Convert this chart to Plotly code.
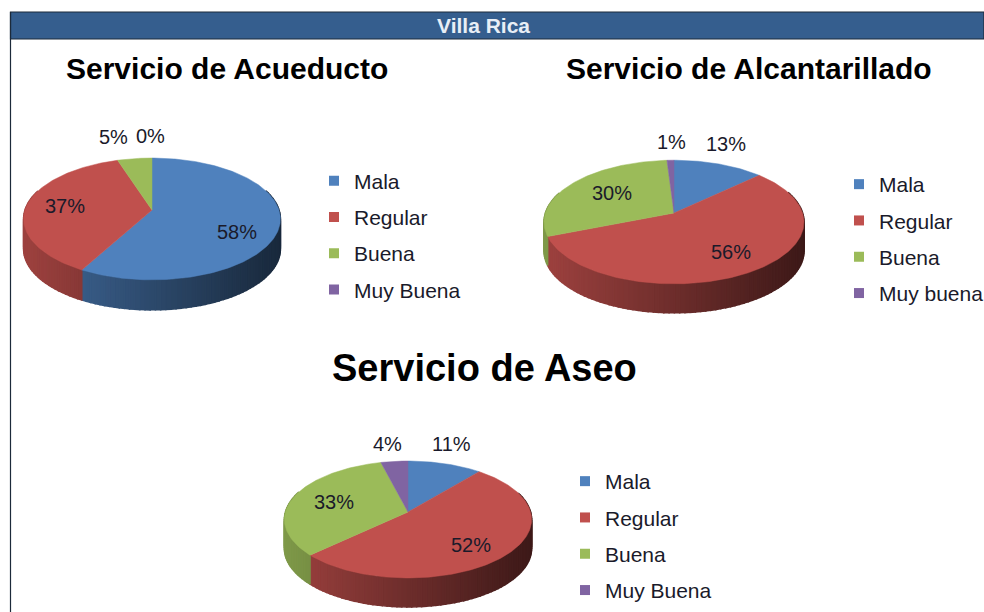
import math
import plotly.graph_objects as go

# ---- data ----
categories_a = ["Mala", "Regular", "Buena", "Muy Buena"]
categories_b = ["Mala", "Regular", "Buena", "Muy buena"]
acueducto = [58, 37, 5, 0]
alcantarillado = [13, 56, 30, 1]
aseo = [11, 52, 33, 4]
colors = ["#4F81BD", "#C0504D", "#9BBB59", "#8064A2"]

# ---- layout of each pie: apex, scales, perspective, wall depth ----
panels = [
    dict(title="Servicio de Acueducto", values=acueducto, cats=categories_a,
         cx=152, cy=210, sx=127, sy=59.6, k=0.147, depth=30,
         tx=227, ty=68, tsize=30,
         lab=[(237, 232), (65, 206), (113, 137), (150, 136)],
         legend=(354, 160.5)),
    dict(title="Servicio de Alcantarillado", values=alcantarillado, cats=categories_b,
         cx=674, cy=213, sx=128.6, sy=60.5, k=0.146, depth=29,
         tx=749, ty=68, tsize=30,
         lab=[(726, 144), (731, 252), (612, 193), (671, 142)],
         legend=(879, 164)),
    dict(title="Servicio de Aseo", values=aseo, cats=categories_a,
         cx=408, cy=512, sx=122.6, sy=57.5, k=0.128, depth=29,
         tx=484, ty=367.5, tsize=38,
         lab=[(451, 444), (471, 545), (334, 502), (387, 444)],
         legend=(605, 461)),
]


def project(p, deg):
    t = math.radians(deg)
    u, v = math.sin(t), -math.cos(t)
    w = 1 - p["k"] * v
    return p["cx"] + p["sx"] * u / w, p["cy"] + p["sy"] * v / w


def shade(hex_color, f):
    r, g, b = (int(hex_color[i:i + 2], 16) for i in (1, 3, 5))
    return f"rgb({int(r * f)},{int(g * f)},{int(b * f)})"


fig = go.Figure()
annotations = []
legend_layouts = {}

for idx, p in enumerate(panels):
    total = sum(p["values"])
    lname = "legend" if idx == 0 else f"legend{idx + 1}"
    left, right = p["cx"] - p["sx"], p["cx"] + p["sx"]

    # side wall, drawn as narrow shaded strips
    start = 0.0
    for val, col in zip(p["values"], colors):
        sweep = 360.0 * val / total
        n = max(1, int(sweep / 2))
        for j in range(n):
            a0 = start + sweep * j / n
            a1 = start + sweep * (j + 1) / n
            if math.cos(math.radians((a0 + a1) / 2)) > 0.35:
                continue
            x0, y0 = project(p, a0)
            x1, y1 = project(p, a1)
            frac = ((x0 + x1) / 2 - left) / (right - left)
            c = shade(col, 0.82 - 0.5 * frac)
            fig.add_trace(go.Scatter(
                x=[x0, x1, x1, x0, x0],
                y=[y0, y1, y1 + p["depth"], y0 + p["depth"], y0],
                mode="lines", fill="toself", fillcolor=c,
                line=dict(color=c, width=1.5),
                hoverinfo="skip", showlegend=False))
        start += sweep

    # top face
    start = 0.0
    for val, col, cat in zip(p["values"], colors, p["cats"]):
        sweep = 360.0 * val / total
        if val > 0:
            n = max(2, int(sweep))
            pts = [project(p, start + sweep * j / n) for j in range(n + 1)]
            xs = [p["cx"]] + [q[0] for q in pts] + [p["cx"]]
            ys = [p["cy"]] + [q[1] for q in pts] + [p["cy"]]
            fig.add_trace(go.Scatter(
                x=xs, y=ys, mode="lines", fill="toself", fillcolor=col,
                line=dict(color=col, width=0.5), name=cat,
                hovertemplate=f"{cat}: {val}%<extra></extra>", showlegend=False))
        start += sweep

    # legend entries
    for cat, col in zip(p["cats"], colors):
        fig.add_trace(go.Scatter(
            x=[None], y=[None], mode="markers", name=cat, legend=lname,
            legendgroup=f"{idx}-{cat}",
            marker=dict(symbol="square", size=10, color=col)))
    lx, ly = p["legend"]
    legend_layouts[lname] = dict(
        x=(lx - 40) / 984, y=1 - ly / 612, xanchor="left", yanchor="top",
        bgcolor="rgba(0,0,0,0)", borderwidth=0, traceorder="grouped",
        tracegroupgap=6, font=dict(family="Liberation Sans", size=21, color="#1a1a2a"))

    # titles and percentage labels
    annotations.append(dict(
        x=p["tx"], y=p["ty"], text=f"<b>{p['title']}</b>", showarrow=False,
        xanchor="center", yanchor="middle",
        font=dict(family="Liberation Sans", size=p["tsize"], color="#000000")))
    for val, (lx_, ly_) in zip(p["values"], p["lab"]):
        annotations.append(dict(
            x=lx_, y=ly_, text=f"{val}%", showarrow=False,
            xanchor="center", yanchor="middle",
            font=dict(family="Liberation Sans", size=20, color="#1a1a2a")))

annotations.append(dict(
    x=483, y=25.5, text="<b>Villa Rica</b>", showarrow=False,
    xanchor="center", yanchor="middle",
    font=dict(family="Liberation Sans", size=21, color="#E8EEF6")))

shapes = [
    dict(type="rect", x0=10.5, x1=984, y0=12, y1=39, fillcolor="#355E8E",
         line=dict(color="#1c2a3a", width=1.2), layer="below"),
    dict(type="line", x0=10.5, x1=10.5, y0=12, y1=612,
         line=dict(color="#1c2a3a", width=1.2), layer="below"),
]

fig.update_layout(
    width=984, height=612,
    margin=dict(l=0, r=0, t=0, b=0, autoexpand=False),
    paper_bgcolor="white", plot_bgcolor="white",
    xaxis=dict(range=[0, 984], visible=False, fixedrange=True),
    yaxis=dict(range=[612, 0], visible=False, fixedrange=True),
    annotations=annotations, shapes=shapes,
    showlegend=True,
    **legend_layouts,
)

fig.write_html("out.html", post_script="document.body.style.margin='0';",
               config=dict(displayModeBar=False))
